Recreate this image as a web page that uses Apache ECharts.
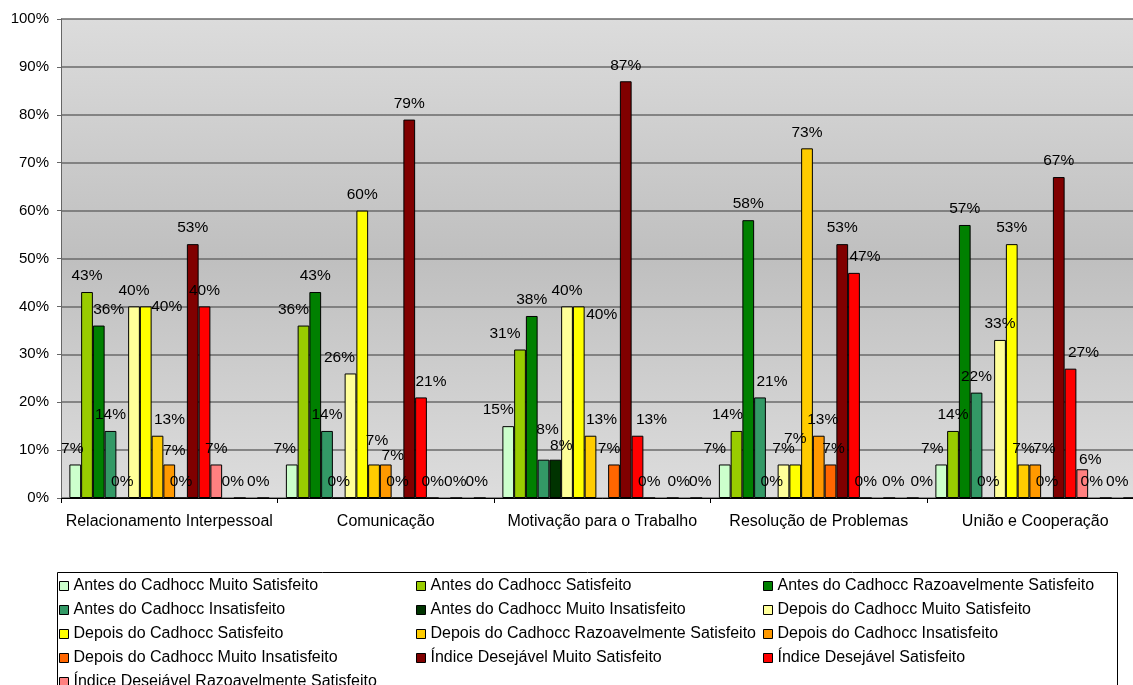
<!DOCTYPE html>
<html><head><meta charset="utf-8">
<script src="https://cdn.jsdelivr.net/npm/echarts@6/dist/echarts.min.js"></script>
<style>html,body{margin:0;padding:0;background:#fff;overflow:hidden;width:1133px;height:685px}#c{width:1160px;height:740px}</style>
</head><body><div id="c"></div>
<script>
// ---- data ----
const categories = ['Relacionamento Interpessoal', 'Comunicação', 'Motivação para o Trabalho', 'Resolução de Problemas', 'União e Cooperação'];
const yTicks = [0, 10, 20, 30, 40, 50, 60, 70, 80, 90, 100];
const seriesNames = [
  'Antes do Cadhocc Muito Satisfeito', 'Antes do Cadhocc Satisfeito', 'Antes do Cadhocc Razoavelmente Satisfeito',
  'Antes do Cadhocc Insatisfeito', 'Antes do Cadhocc Muito Insatisfeito', 'Depois do Cadhocc Muito Satisfeito',
  'Depois do Cadhocc Satisfeito', 'Depois do Cadhocc Razoavelmente Satisfeito', 'Depois do Cadhocc Insatisfeito',
  'Depois do Cadhocc Muito Insatisfeito', 'Índice Desejável Muito Satisfeito', 'Índice Desejável Satisfeito',
  'Índice Desejável Razoavelmente Satisfeito', 'Série 14', 'Série 15', 'Série 16', 'Série 17'
];
const antesMuitoSatisfeito      = [7, 7, 15, 7, 7];
const antesSatisfeito           = [43, 36, 31, 14, 14];
const antesRazoavel             = [36, 43, 38, 58, 57];
const antesInsatisfeito         = [14, 14, 8, 21, 22];
const antesMuitoInsatisfeito    = [0, 0, 8, 0, 0];
const depoisMuitoSatisfeito     = [40, 26, 40, 7, 33];
const depoisSatisfeito          = [40, 60, 40, 7, 53];
const depoisRazoavel            = [13, 7, 13, 73, 7];
const depoisInsatisfeito        = [7, 7, null, 13, 7];
const depoisMuitoInsatisfeito   = [0, 0, 7, 7, 0];
const indiceMuitoSatisfeito     = [53, 79, 87, 53, 67];
const indiceSatisfeito          = [40, 21, 13, 47, 27];
const indiceRazoavel            = [7, 0, 0, 0, 6];
const serie14                   = [null, null, null, null, null];
const serie15                   = [0, 0, 0, 0, 0];
const serie16                   = [null, null, null, null, null];
const serie17                   = [0, 0, 0, 0, 0];

const allValues = [antesMuitoSatisfeito, antesSatisfeito, antesRazoavel, antesInsatisfeito, antesMuitoInsatisfeito,
  depoisMuitoSatisfeito, depoisSatisfeito, depoisRazoavel, depoisInsatisfeito, depoisMuitoInsatisfeito,
  indiceMuitoSatisfeito, indiceSatisfeito, indiceRazoavel, serie14, serie15, serie16, serie17];

// ---- styles ----
const colors = ['#CCFFCC', '#99CC00', '#008000', '#339966', '#003300', '#FFFF99', '#FFFF00', '#FFCC00', '#FF9900',
  '#FF6600', '#800000', '#FF0000', '#FF8080', '#C0C0C0', '#C0C0C0', '#C0C0C0', '#C0C0C0'];
// label nudges [dx, dy] keyed "series-category" (mimic hand-placed labels)
const labelNudge = {
  '0-0': [-3, 0], '2-0': [10, 0], '6-0': [21, 16], '7-0': [12, 0], '8-0': [5, 2], '14-0': [-7, 0], '16-0': [-5, 0],
  '0-1': [-7, 0], '1-1': [-10, 0], '5-1': [-11, 0], '7-1': [3, -8], '8-1': [7, 7], '11-1': [10, 0], '14-1': [-1, 0], '16-1': [-3, 0],
  '0-2': [-10, 0], '1-2': [-15, 0], '3-2': [4, -14], '4-2': [6, 2], '6-2': [23, 24], '7-2': [11, 0], '9-2': [-5, 0], '11-2': [14, 0], '14-2': [6, 0], '16-2': [4, 0],
  '0-3': [-10, 0], '1-3': [-9, 0], '3-3': [12, 0], '6-3': [0, -10], '8-3': [4, 0], '9-3': [3, 0], '11-3': [11, 0], '14-3': [4, 0], '16-3': [9, 0],
  '0-4': [-9, 0], '8-4': [9, 0], '11-4': [13, 0], '12-4': [8, 6], '14-4': [-14, 0], '16-4': [-12, 0]
};
const FONT = '"Liberation Sans", Arial, sans-serif';

const series = allValues.map((vals, si) => ({
  name: seriesNames[si],
  type: 'bar',
  barWidth: 11.75,
  barGap: '0%',
  itemStyle: { color: colors[si], borderColor: '#000', borderWidth: 1 },
  label: {
    show: true, position: 'top', distance: 8, formatter: '{c}%',
    fontFamily: FONT, fontSize: 15.5, color: '#000'
  },
  data: vals.map((v, ci) => {
    const n = labelNudge[si + '-' + ci];
    return n ? { value: v, label: { offset: n } } : v;
  })
}));

const legendCommon = {
  orient: 'vertical', icon: 'rect', itemWidth: 9, itemHeight: 9, itemGap: 8, padding: 0, height: 140,
  selectedMode: false,
  itemStyle: { borderColor: '#000', borderWidth: 1 },
  textStyle: { fontFamily: FONT, fontSize: 16, lineHeight: 16, color: '#000' }
};

const chart = echarts.init(document.getElementById('c'));
chart.setOption({
  animation: false,
  backgroundColor: '#fff',
  grid: {
    left: 61, top: 19, width: 1082.5, height: 479, show: true, borderWidth: 0,
    backgroundColor: { type: 'linear', x: 0, y: 0, x2: 0, y2: 1, colorStops: [
      { offset: 0, color: '#dcdcdc' }, { offset: 0.5, color: '#bfbfbf' }, { offset: 1, color: '#dddddd' }] }
  },
  xAxis: {
    type: 'category', data: categories,
    axisLine: { lineStyle: { color: '#000', width: 1 } },
    axisTick: { show: true, length: 5, lineStyle: { color: '#000' } },
    axisLabel: { margin: 16, fontFamily: FONT, fontSize: 16, color: '#000', interval: 0 }
  },
  yAxis: {
    type: 'value', min: yTicks[0], max: yTicks[yTicks.length - 1], interval: yTicks[1] - yTicks[0],
    axisLine: { show: true, lineStyle: { color: '#666', width: 1 } },
    axisTick: { show: true, length: 4, lineStyle: { color: '#666' } },
    axisLabel: { margin: 12, formatter: '{value}%', fontFamily: FONT, fontSize: 15, color: '#000' },
    splitLine: { lineStyle: { color: '#6a6a6a', width: 1.5 } }
  },
  legend: [
    Object.assign({ left: 59, top: 578, data: [0, 3, 6, 9, 12].map(i => seriesNames[i]) }, legendCommon),
    Object.assign({ left: 416, top: 578, data: [1, 4, 7, 10].map(i => seriesNames[i]) }, legendCommon),
    Object.assign({ left: 763, top: 578, data: [2, 5, 8, 11].map(i => seriesNames[i]) }, legendCommon)
  ],
  graphic: [{
    type: 'rect', z: 0, silent: true,
    shape: { x: 57.5, y: 572.5, width: 1060, height: 140 },
    style: { fill: 'none', stroke: '#000', lineWidth: 1 }
  }],
  series: series
});
</script></body></html>
